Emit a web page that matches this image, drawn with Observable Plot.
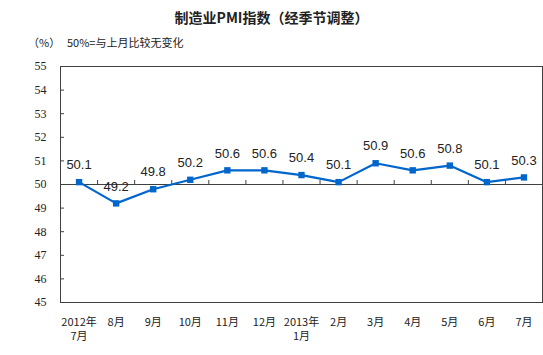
<!DOCTYPE html>
<html><head><meta charset="utf-8">
<script src="https://cdn.jsdelivr.net/npm/d3@7"></script>
<script src="https://cdn.jsdelivr.net/npm/@observablehq/plot@0.6"></script>
<style>
body{margin:0;background:#fff;width:543px;height:355px;overflow:hidden;font-family:"Noto Sans CJK SC",sans-serif;}
#head{position:relative;height:55px;}
#title{position:absolute;left:0;width:543px;top:7px;text-align:center;font-size:14px;font-weight:bold;color:#222;line-height:20px;}
#unit{position:absolute;left:28px;top:34px;font-size:11px;color:#222;}
#note{position:absolute;left:67px;top:34px;font-size:11px;color:#222;}
</style></head>
<body>
<div id="head"><div id="title">制造业PMI指数（经季节调整）</div><div id="unit">（%）</div><div id="note">50%=与上月比较无变化</div></div>
<div id="chart"></div>
<script>
const categories = ["2012年\n7月","8月","9月","10月","11月","12月","2013年\n1月","2月","3月","4月","5月","6月","7月"];
const values = [50.1,49.2,49.8,50.2,50.6,50.6,50.4,50.1,50.9,50.6,50.8,50.1,50.3];
const yTicks = [45,46,47,48,49,50,51,52,53,54,55];
const baseline = 50;

const data = categories.map((c,i)=>({i, c, v: values[i]}));
const boundaries = d3.range(categories.length - 1).map(i => i + 0.5);
const lineColor = "#0066cc";
const axisColor = "#404040";

const chart = Plot.plot({
  width: 543, height: 300,
  marginTop: 11, marginBottom: 53, marginLeft: 60, marginRight: 1,
  x: {type: "linear", domain: [-0.5, categories.length - 0.5]},
  y: {domain: [45, 55]},
  style: {background: "#fff"},
  marks: [
    Plot.frame({stroke: axisColor}),
    Plot.ruleY([baseline], {stroke: axisColor}),
    Plot.ruleX(boundaries, {x: d => d, y1: baseline, y2: baseline, insetTop: -4, stroke: axisColor}),
    Plot.axisY({ticks: yTicks, tickSize: 0, tickPadding: 14, tickFormat: d => d, fontFamily: "Liberation Serif", fontSize: 12, fill: "#222", label: null}),
    Plot.ruleY(yTicks, {y: d => d, x1: -0.5, x2: -0.5, insetRight: -4, stroke: axisColor}),
    Plot.axisX({ticks: d3.range(categories.length), tickFormat: i => categories[i], tickSize: 0, tickPadding: 13, fontFamily: "Noto Sans CJK SC", fontSize: 11, fill: "#222", label: null, lineHeight: 1.32}),
    Plot.line(data, {x: "i", y: "v", stroke: lineColor, strokeWidth: 2.2}),
    Plot.dot(data, {x: "i", y: "v", symbol: "square", r: 3.6, fill: lineColor, stroke: "none"}),
    Plot.text(data, {x: "i", y: "v", text: d => d.v.toFixed(1), dy: -17, fontFamily: "Liberation Sans", fontSize: 13, fill: "#222"})
  ]
});
document.getElementById("chart").appendChild(chart);
</script>
</body></html>
